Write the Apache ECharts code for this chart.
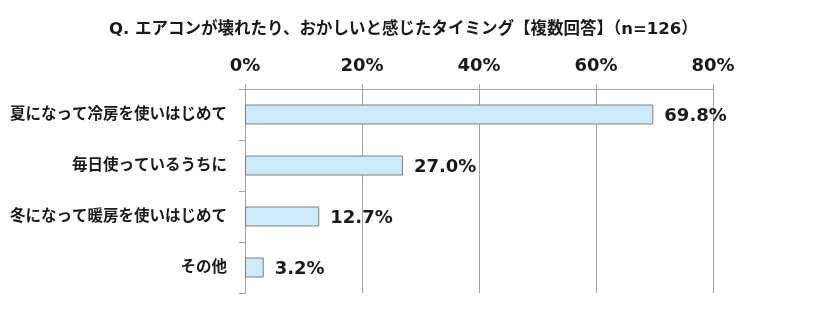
<!DOCTYPE html>
<html>
<head>
<meta charset="utf-8">
<script src="https://cdn.jsdelivr.net/npm/echarts@6/dist/echarts.min.js"></script>
<style>
  html, body { margin: 0; padding: 0; background: #fff; }
  #chart { width: 840px; height: 333px; }
</style>
</head>
<body>
<div id="chart"></div>
<script>
// Survey: timing when the air conditioner broke or seemed odd (multiple answers, n=126)
const titleText = 'Q. エアコンが壊れたり、おかしいと感じたタイミング【複数回答】（n=126）';
const categories = [
  '夏になって冷房を使いはじめて',
  '毎日使っているうちに',
  '冬になって暖房を使いはじめて',
  'その他'
];
const values = [69.8, 27.0, 12.7, 3.2];
const axisMin = 0;
const axisMax = 80;
const axisStep = 20;

const FONT = '"DejaVu Sans", "Noto Sans CJK JP", sans-serif';
const GRAY = '#a3a3a3';
const INK = '#1a1a1a';

const chart = echarts.init(document.getElementById('chart'), null, { renderer: 'canvas' });

chart.setOption({
  animation: false,
  backgroundColor: '#ffffff',
  title: {
    text: titleText,
    left: 104,
    top: 16,
    textStyle: { fontFamily: FONT, fontSize: 16.5, fontWeight: 'bold', color: INK }
  },
  grid: { left: 245, right: 127, top: 89, bottom: 40, containLabel: false },
  xAxis: {
    type: 'value',
    position: 'top',
    min: axisMin,
    max: axisMax,
    interval: axisStep,
    axisLine: { show: true, lineStyle: { color: GRAY, width: 1 } },
    axisTick: { show: true, inside: false, length: 5, lineStyle: { color: GRAY } },
    splitLine: { show: true, lineStyle: { color: GRAY, width: 1 } },
    axisLabel: {
      formatter: '{value}%',
      margin: 14,
      fontFamily: FONT, fontSize: 18, fontWeight: 'bold', color: INK
    }
  },
  yAxis: {
    type: 'category',
    inverse: true,
    data: categories,
    axisLine: { show: true, lineStyle: { color: GRAY, width: 1 } },
    axisTick: { show: true, inside: false, length: 6, lineStyle: { color: GRAY } },
    axisLabel: {
      margin: 18,
      fontFamily: FONT, fontSize: 15.5, fontWeight: 'bold', color: INK
    }
  },
  series: [{
    type: 'bar',
    data: values,
    barWidth: 20,
    itemStyle: { color: '#cdeafb', borderColor: '#7f7f7f', borderWidth: 1 },
    label: {
      show: true,
      position: 'right',
      distance: 11,
      offset: [0, 2],
      formatter: p => p.value.toFixed(1) + '%',
      fontFamily: FONT, fontSize: 18, fontWeight: 'bold', color: INK
    }
  }]
});
</script>
</body>
</html>
